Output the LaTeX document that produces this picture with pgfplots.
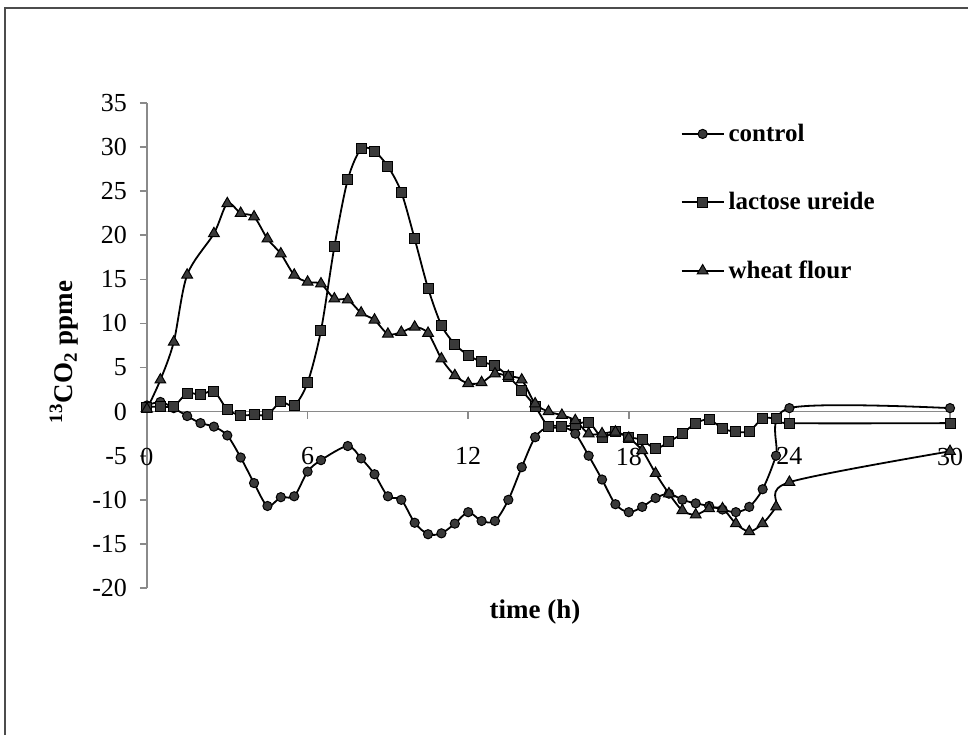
\documentclass[border=0pt]{standalone}
\usepackage{fontspec}
\setmainfont{Liberation Serif}
\usepackage{pgfplots}
\pgfplotsset{compat=1.18}
\usetikzlibrary{calc}
\definecolor{mk}{HTML}{3A3A3A}
\definecolor{ax}{HTML}{8A8A8A}
\begin{document}
\begin{tikzpicture}[x=1pt,y=1pt]
\begin{pgfinterruptboundingbox}
\begin{axis}[
  name=ax,
  scale only axis, width=401.5pt, height=242.5pt,
  xmin=0, xmax=30, ymin=-20, ymax=35,
  axis x line*=middle, axis y line*=left,
  axis line style={color=ax, line width=0.8pt},
  every tick/.style={color=ax, line width=0.8pt},
  tick align=outside, major tick length=3.5pt,
  xtick={0,6,12,18,24,30}, ytick={-20,-15,...,35},
  hide obscured x ticks=false, hide obscured y ticks=false,
  /pgf/number format/assume math mode=true,
  tick label style={font=\fontsize{13}{15}\selectfont},
  xticklabel style={yshift=-11pt},
  yticklabel style={xshift=-3pt},
  clip=false,
  legend cell align=left,
  legend style={at={(axis cs:19.7,33.6)}, anchor=north west, draw=none, fill=none,
    font=\fontsize{12.5}{14}\selectfont\bfseries, row sep=20pt},
  legend image code/.code={\draw[#1,mark repeat=2,mark phase=2] plot coordinates {(0cm,0cm) (0.37cm,0cm) (0.74cm,0cm)};},
]
\coordinate (O) at (rel axis cs:0,0);
\addplot[black, line width=0.9pt, smooth, tension=0.5, mark=*, mark size=2.3pt, mark options={fill=mk, draw=black, line width=0.5pt}] coordinates {
(0,0.7) (0.5,1.1) (1.0,0.4) (1.5,-0.5) (2.0,-1.3) (2.5,-1.7) (3.0,-2.7) (3.5,-5.2) (4.0,-8.1) (4.5,-10.7) (5.0,-9.7) (5.5,-9.6) (6.0,-6.8) (6.5,-5.5) (7.5,-3.9) (8.0,-5.3) (8.5,-7.1) (9.0,-9.6) (9.5,-10.0) (10.0,-12.6) (10.5,-13.9) (11.0,-13.8) (11.5,-12.7) (12.0,-11.4) (12.5,-12.4) (13.0,-12.4) (13.5,-10.0) (14.0,-6.3) (14.5,-2.9) (15.0,-1.7) (15.5,-1.7) (16.0,-2.5) (16.5,-5.0) (17.0,-7.7) (17.5,-10.5) (18.0,-11.4) (18.5,-10.8) (19.0,-9.8) (19.5,-9.3) (20.0,-10.0) (20.5,-10.4) (21.0,-10.7) (21.5,-11.1) (22.0,-11.4) (22.5,-10.8) (23.0,-8.8) (23.5,-5.0) (24.0,0.4) (30,0.4)};
\addlegendentry{control}
\addplot[black, line width=0.9pt, smooth, tension=0.5, mark=square*, mark size=2.5pt, mark options={fill=mk, draw=black, line width=0.5pt}] coordinates {
(0,0.5) (0.5,0.6) (1.0,0.6) (1.5,2.1) (2.0,1.9) (2.5,2.3) (3.0,0.25) (3.5,-0.4) (4.0,-0.35) (4.5,-0.35) (5.0,1.1) (5.5,0.7) (6.0,3.3) (6.5,9.2) (7.0,18.7) (7.5,26.3) (8.0,29.8) (8.5,29.5) (9.0,27.8) (9.5,24.9) (10.0,19.6) (10.5,14.0) (11.0,9.8) (11.5,7.65) (12.0,6.4) (12.5,5.65) (13.0,5.2) (13.5,4.0) (14.0,2.4) (14.5,0.6) (15.0,-1.7) (15.5,-1.7) (16.0,-1.5) (16.5,-1.2) (17.0,-2.9) (17.5,-2.3) (18.0,-2.9) (18.5,-3.2) (19.0,-4.2) (19.5,-3.4) (20.0,-2.5) (20.5,-1.3) (21.0,-0.9) (21.5,-1.9) (22.0,-2.3) (22.5,-2.2) (23.0,-0.8) (23.5,-0.8) (24.0,-1.3) (30,-1.3)};
\addlegendentry{lactose ureide}
\addplot[black, line width=0.9pt, smooth, tension=0.5, mark=triangle*, mark size=3.1pt, mark options={fill=mk, draw=black, line width=0.5pt}] coordinates {
(0,0.3) (0.5,3.6) (1.0,7.9) (1.5,15.5) (2.5,20.2) (3.0,23.6) (3.5,22.5) (4.0,22.1) (4.5,19.6) (5.0,17.9) (5.5,15.5) (6.0,14.7) (6.5,14.5) (7.0,12.8) (7.5,12.7) (8.0,11.2) (8.5,10.4) (9.0,8.8) (9.5,9.0) (10.0,9.6) (10.5,8.9) (11.0,6.0) (11.5,4.1) (12.0,3.2) (12.5,3.3) (13.0,4.3) (13.5,4.0) (14.0,3.6) (14.5,0.9) (15.0,0.0) (15.5,-0.4) (16.0,-1.0) (16.5,-2.5) (17.0,-2.5) (17.5,-2.3) (18.0,-3.0) (18.5,-4.4) (19.0,-7.0) (19.5,-9.3) (20.0,-11.2) (20.5,-11.7) (21.0,-11.0) (21.5,-11.0) (22.0,-12.7) (22.5,-13.6) (23.0,-12.7) (23.5,-10.8) (24.0,-8.0) (30,-4.5)};
\addlegendentry{wheat flour}
\end{axis}
\end{pgfinterruptboundingbox}
\path[use as bounding box] ($(O)+(-73.5,-73.5)$) rectangle ($(O)+(410.5,294)$);
\draw[line width=1.3pt, color=black!70] ($(O)+(-70.9,-73.5)$) -- ($(O)+(-70.9,289.9)$) -- ($(O)+(410.5,289.9)$);
\node[font=\fontsize{13.5}{15}\selectfont\bfseries] at ($(O)+(194,-12)$) {time (h)};
\node[rotate=90, font=\fontsize{13.5}{15}\selectfont\bfseries] at ($(O)+(-41.5,118)$) {\textsuperscript{13}CO\textsubscript{2} ppme};
\end{tikzpicture}
\end{document}
